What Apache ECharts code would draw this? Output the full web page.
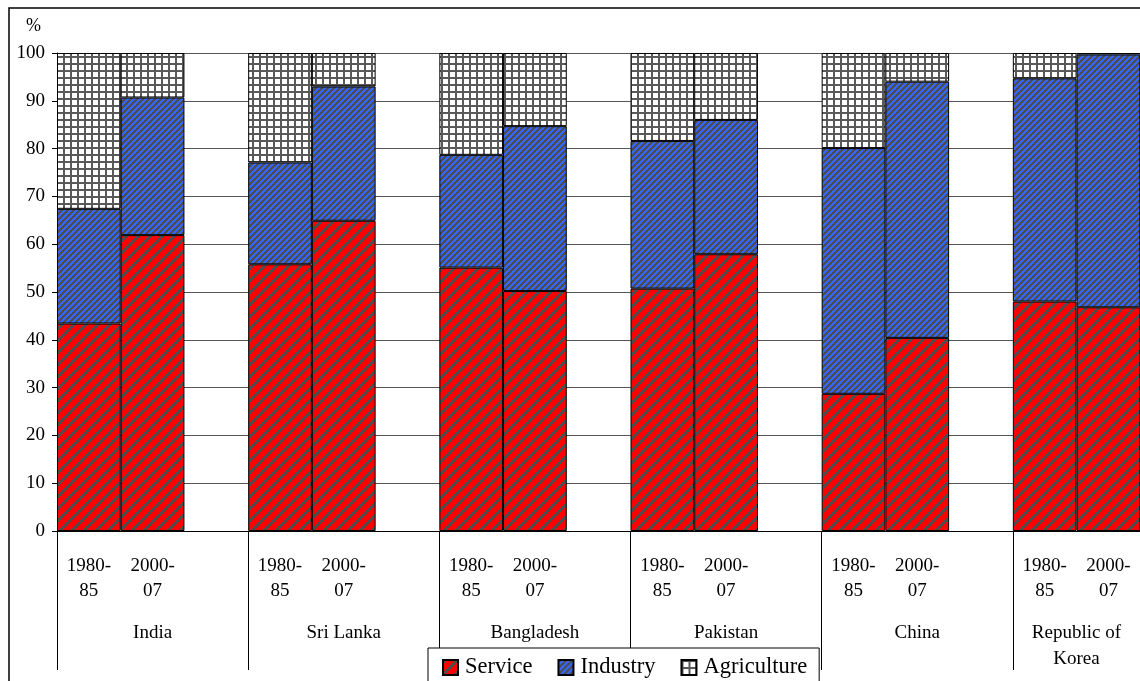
<!DOCTYPE html>
<html>
<head>
<meta charset="utf-8">
<script src="https://cdn.jsdelivr.net/npm/echarts@6/dist/echarts.min.js"></script>
<style>
  html, body { margin: 0; padding: 0; background: #fff; overflow: hidden; }
  #chart { width: 1210px; height: 681px; }
</style>
</head>
<body>
<div id="chart"></div>
<script>
// Sector shares of GDP (%), two periods per country
const countries = ['India', 'Sri Lanka', 'Bangladesh', 'Pakistan', 'China', 'Republic of\nKorea'];
const periods = ['1980-\n85', '2000-\n07'];
const service     = [43.4, 61.9, 55.8, 64.9, 55.1, 50.2, 50.7, 57.9, 28.7, 40.4, 48.0, 46.8];
const industry    = [24.0, 28.8, 21.3, 28.1, 23.6, 34.5, 30.9, 28.1, 51.4, 53.6, 46.7, 52.9];
const agriculture = [32.6,  9.3, 22.9,  7.0, 21.3, 15.3, 18.4, 14.0, 19.9,  6.0,  5.3,  0.3];
const yTicks = { min: 0, max: 100, interval: 10 };

// Each country occupies three slots: two bars and an empty spacer slot
const slotLabels = [];
countries.forEach(() => { slotLabels.push(periods[0], periods[1], ''); });
function toSlots(values) {
  const out = [];
  for (let i = 0; i < countries.length; i++) {
    out.push(values[2 * i], values[2 * i + 1], null);
  }
  return out;
}
// The last group has no trailing spacer, so its name sits under its two bars
const countryItems = countries.map((name, i) =>
  i === countries.length - 1
    ? { value: name, textStyle: { padding: [0, 64, 0, 0] } }
    : name);

// Fill patterns
function stripePattern(bg, fg, period, width) {
  const c = document.createElement('canvas');
  c.width = period; c.height = period;
  const ctx = c.getContext('2d');
  ctx.fillStyle = bg;
  ctx.fillRect(0, 0, period, period);
  ctx.fillStyle = fg;
  for (let y = 0; y < period; y++) {
    for (let x = 0; x < period; x++) {
      if (((x + y) % period) < width) ctx.fillRect(x, y, 1, 1);
    }
  }
  return { image: c, repeat: 'repeat' };
}
function gridPattern(bg, fg, period, width) {
  const c = document.createElement('canvas');
  c.width = period; c.height = period;
  const ctx = c.getContext('2d');
  ctx.fillStyle = bg;
  ctx.fillRect(0, 0, period, period);
  ctx.fillStyle = fg;
  ctx.fillRect(0, 0, width, period);
  ctx.fillRect(0, 0, period, width);
  return { image: c, repeat: 'repeat' };
}
const redFill = stripePattern('#ff0000', '#4d4d4d', 12, 4);
const blueFill = stripePattern('#3366ff', '#4d4d4d', 6, 3);
const gridFill = gridPattern('#ffffff', '#595959', 7, 2);

const serif = '"Liberation Serif", "Times New Roman", serif';
const chart = echarts.init(document.getElementById('chart'), null, { renderer: 'canvas' });

function barSeries(name, values, fill) {
  return {
    name: name,
    type: 'bar',
    stack: 'share',
    xAxisIndex: 0,
    barCategoryGap: '0%',
    data: toSlots(values),
    itemStyle: { color: fill, borderColor: '#000', borderWidth: 1 },
    emphasis: { disabled: true }
  };
}

chart.setOption({
  animation: false,
  backgroundColor: '#fff',
  textStyle: { fontFamily: serif, color: '#000' },
  grid: { left: 57, top: 53, bottom: 150, right: 6, containLabel: false },
  legend: {
    left: 428, top: 648,
    backgroundColor: '#fff',
    borderColor: '#000', borderWidth: 1,
    padding: [8, 12, 12, 14],
    icon: 'rect',
    itemWidth: 15, itemHeight: 15, itemGap: 25,
    textStyle: { fontFamily: serif, fontSize: 22.5, color: '#000', padding: [0, 0, 0, 2] },
    data: ['Service', 'Industry', 'Agriculture'],
    selectedMode: false
  },
  graphic: [
    { type: 'rect', shape: { x: 9, y: 8, width: 1300, height: 700 },
      style: { fill: 'none', stroke: '#000', lineWidth: 1.5 }, z: 0, silent: true },
    { type: 'text', left: 26, top: 17,
      style: { text: '%', font: '18px ' + serif, fill: '#000' } }
  ],
  xAxis: [
    {
      type: 'category',
      data: slotLabels,
      position: 'bottom',
      axisLine: { show: true, lineStyle: { color: '#000', width: 1 } },
      axisTick: { show: false },
      axisLabel: { interval: 0, fontFamily: serif, fontSize: 19, lineHeight: 25, color: '#000', margin: 23 },
      splitLine: { show: false }
    },
    {
      type: 'category',
      data: countryItems,
      position: 'bottom',
      axisLine: { show: false },
      axisTick: { show: true, length: 139, interval: 0, lineStyle: { color: '#000', width: 1 } },
      axisLabel: { interval: 0, fontFamily: serif, fontSize: 19, lineHeight: 26, color: '#000', margin: 89 },
      splitLine: { show: false }
    }
  ],
  yAxis: {
    type: 'value',
    min: yTicks.min, max: yTicks.max, interval: yTicks.interval,
    axisLine: { show: true, lineStyle: { color: '#000', width: 1 } },
    axisTick: { show: true, length: 5, lineStyle: { color: '#000' } },
    axisLabel: { fontFamily: serif, fontSize: 19, color: '#000', margin: 12 },
    splitLine: { show: true, lineStyle: { color: '#555', width: 1 } }
  },
  series: [
    barSeries('Service', service, redFill),
    barSeries('Industry', industry, blueFill),
    barSeries('Agriculture', agriculture, gridFill)
  ]
});
</script>
</body>
</html>
